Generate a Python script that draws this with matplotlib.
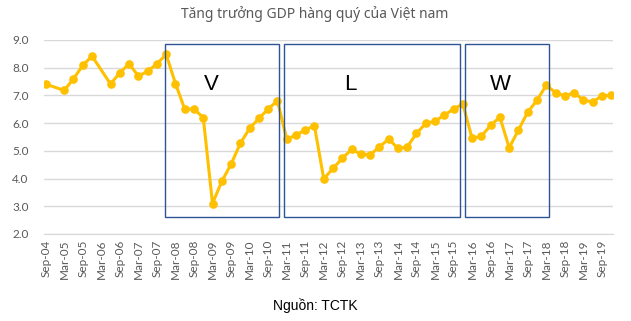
import numpy as np
import matplotlib
matplotlib.use("Agg")
import matplotlib.pyplot as plt
from matplotlib.patches import Rectangle

# Quarterly GDP growth (%), Sep-04 .. Dec-19 (None = no marker in source)
quarters = [
    "Sep-04", "Dec-04", "Mar-05", "Jun-05", "Sep-05", "Dec-05", "Mar-06", "Jun-06",
    "Sep-06", "Dec-06", "Mar-07", "Jun-07", "Sep-07", "Dec-07", "Mar-08", "Jun-08",
    "Sep-08", "Dec-08", "Mar-09", "Jun-09", "Sep-09", "Dec-09", "Mar-10", "Jun-10",
    "Sep-10", "Dec-10", "Mar-11", "Jun-11", "Sep-11", "Dec-11", "Mar-12", "Jun-12",
    "Sep-12", "Dec-12", "Mar-13", "Jun-13", "Sep-13", "Dec-13", "Mar-14", "Jun-14",
    "Sep-14", "Dec-14", "Mar-15", "Jun-15", "Sep-15", "Dec-15", "Mar-16", "Jun-16",
    "Sep-16", "Dec-16", "Mar-17", "Jun-17", "Sep-17", "Dec-17", "Mar-18", "Jun-18",
    "Sep-18", "Dec-18", "Mar-19", "Jun-19", "Sep-19", "Dec-19",
]
gdp = [
    7.41, None, 7.18, 7.60, 8.08, 8.42, None, 7.41, 7.82, 8.14,
    7.70, 7.87, 8.14, 8.48, 7.43, 6.51, 6.51, 6.20, 3.10, 3.90,
    4.52, 5.27, 5.81, 6.17, 6.51, 6.81, 5.43, 5.56, 5.77, 5.89,
    3.99, 4.37, 4.73, 5.05, 4.88, 4.86, 5.14, 5.43, 5.09, 5.14,
    5.63, 5.99, 6.07, 6.29, 6.51, 6.69, 5.45, 5.53, 5.92, 6.22,
    5.11, 5.75, 6.40, 6.82, 7.37, 7.10, 6.98, 7.10, 6.83, 6.76,
    6.99, 7.00,
]
y_ticks = [2.0, 3.0, 4.0, 5.0, 6.0, 7.0, 8.0, 9.0]

# Shape boxes: label, box span (category positions), label x position
shape_labels = ["V", "L", "W"]
shape_spans = [(12.9, 25.2), (25.75, 44.7), (45.25, 54.3)]
label_x = [17.9, 32.9, 49.1]

title = "Tăng trưởng GDP hàng quý của Việt nam"
source = "Nguồn: TCTK"

fig = plt.figure(figsize=(6.31, 3.21), dpi=100)
ax = fig.add_axes([43.8 / 631, 1 - 234 / 321, (613 - 43.8) / 631, 194 / 321])

x = np.arange(len(quarters))
vals = np.array([np.nan if v is None else v for v in gdp])
ok = ~np.isnan(vals)
ax.plot(x[ok], vals[ok], color="#FFC000", lw=2.2, marker="o", ms=5.2,
        solid_joinstyle="round", zorder=3)

ax.set_xlim(-0.2, len(quarters) - 0.8)
ax.set_ylim(2, 9)
ax.set_yticks(y_ticks)
ax.set_yticklabels([f"{t:.1f}" for t in y_ticks])
ax.set_xticks(x[::2])
ax.set_xticklabels(quarters[::2], rotation=90)
ax.tick_params(axis="both", length=0, labelsize=8.5, colors="#595959")
ax.tick_params(axis="y", pad=11)
ax.tick_params(axis="x", pad=4)
for lab in ax.get_xticklabels() + ax.get_yticklabels():
    lab.set_family(["Lato", "DejaVu Sans"])

ax.grid(axis="y", color="#D9D9D9", lw=1)
ax.set_axisbelow(True)
for s in ["top", "right", "left"]:
    ax.spines[s].set_visible(False)
ax.spines["bottom"].set_color("#D9D9D9")

for lab, (x0, x1), lx in zip(shape_labels, shape_spans, label_x):
    ax.add_patch(Rectangle((x0, 2.6), x1 - x0, 8.84 - 2.6, fill=False,
                           edgecolor="#2F5597", lw=1.0, zorder=4, clip_on=False))
    ax.text(lx, 7.38, lab, ha="center", va="center",
            fontsize=16, family=["Liberation Sans"], color="black")

fig.text(315 / 631, 1 - 14 / 321, title, ha="center", va="center",
         fontsize=10, color="#595959", family=["Noto Sans", "DejaVu Sans"])
fig.text(315 / 631, 1 - 306 / 321, source, ha="center", va="center",
         fontsize=10, color="black", family=["Liberation Sans"])

fig.savefig("out.png", dpi=100)
